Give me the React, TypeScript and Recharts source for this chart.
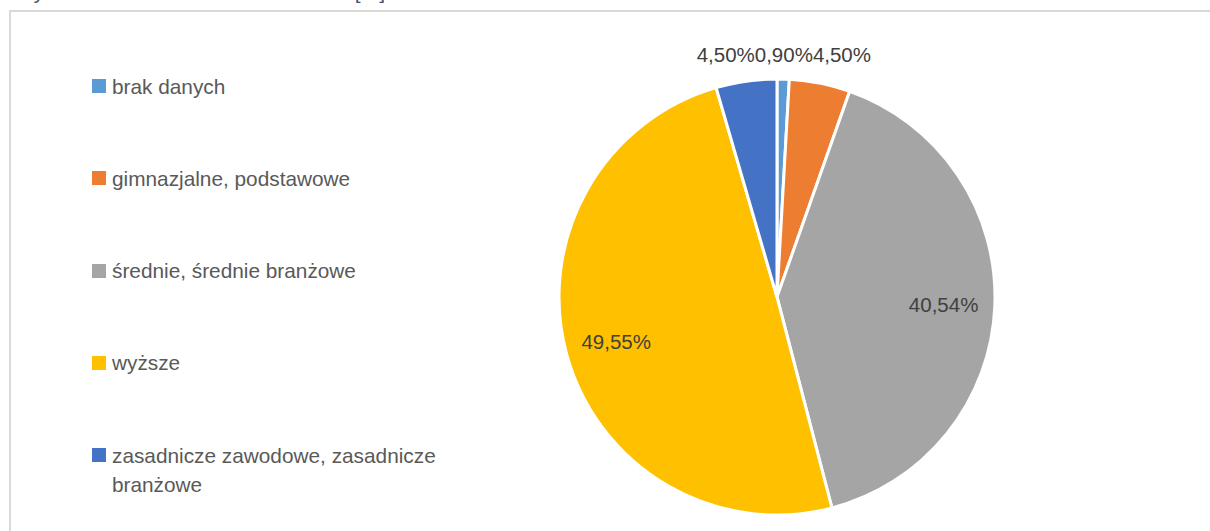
import React from 'react';
import { PieChart, Pie, Cell } from 'recharts';

const categories = [
  'brak danych',
  'gimnazjalne, podstawowe',
  'średnie, średnie branżowe',
  'wyższe',
  'zasadnicze zawodowe, zasadnicze branżowe',
];
const counts = [1, 5, 45, 55, 5];
const colors = ['#5B9BD5', '#ED7D31', '#A5A5A5', '#FFC000', '#4472C4'];
const titleText = 'Wykształcenie uczestników badania [%]';

const data = categories.map((name, i) => ({ name, value: counts[i] }));
const total = counts.reduce((a, b) => a + b, 0);

const FONT = '"Liberation Sans", Arial, sans-serif';
const LABEL_SIZE = 20.5;
const RAD = Math.PI / 180;

const fmt = (v: number) => ((v / total) * 100).toFixed(2).replace('.', ',') + '%';

const charW: Record<string, number> = { ',': 0.278, '%': 0.889 };
const textWidth = (s: string) =>
  s.split('').reduce((a, c) => a + (charW[c] ?? 0.556), 0) * LABEL_SIZE;

function outsidePositions(cx: number, cy: number, R: number) {
  let cum = 0;
  const items: { index: number; nat: number; w: number }[] = [];
  counts.forEach((v, i) => {
    const a0 = (cum / total) * 360;
    cum += v;
    const a1 = (cum / total) * 360;
    if (v / total < 0.1) {
      const mid = ((a0 + a1) / 2) * RAD;
      items.push({ index: i, nat: cx + (R + 26) * Math.sin(mid), w: textWidth(fmt(v)) });
    }
  });
  items.sort((a, b) => a.nat - b.nat);
  type G = { its: typeof items; left: number; width: number };
  const groups: G[] = [];
  for (const it of items) {
    groups.push({ its: [it], left: it.nat - it.w / 2, width: it.w });
    while (groups.length > 1) {
      const b = groups[groups.length - 1];
      const a = groups[groups.length - 2];
      if (a.left + a.width > b.left) {
        const its = [...a.its, ...b.its];
        const width = a.width + b.width;
        const center = its.reduce((s, q) => s + q.nat, 0) / its.length;
        groups.splice(groups.length - 2, 2, { its, left: center - width / 2, width });
      } else break;
    }
  }
  const out: Record<number, number> = {};
  groups.forEach((g) => {
    let x = g.left;
    g.its.forEach((q) => {
      out[q.index] = x + q.w / 2;
      x += q.w;
    });
  });
  return { xs: out, y: cy - R - 25 };
}

const renderLabel = (props: any) => {
  const { cx, cy, midAngle, outerRadius, index } = props;
  const v = counts[index];
  const text = fmt(v);
  let x: number;
  let y: number;
  if (v / total >= 0.1) {
    const r = outerRadius * 0.765;
    x = cx + r * Math.cos(-midAngle * RAD);
    y = cy + r * Math.sin(-midAngle * RAD);
  } else {
    const p = outsidePositions(cx, cy, outerRadius);
    x = p.xs[index];
    y = p.y;
  }
  return (
    <text
      x={x}
      y={y}
      textAnchor="middle"
      dominantBaseline="central"
      fill="#404040"
      fontSize={LABEL_SIZE}
      fontFamily={FONT}
    >
      {text}
    </text>
  );
};

function LegendBlock() {
  return (
    <div
      style={{
        position: 'absolute',
        left: 92,
        top: 71.5,
        width: 400,
        fontFamily: FONT,
        fontSize: 20.8,
        color: '#595959',
      }}
    >
      {categories.map((c, i) => (
        <div
          key={c}
          style={{ display: 'flex', alignItems: 'flex-start', height: 92.3, lineHeight: '29px' }}
        >
          <div
            style={{
              width: 14,
              height: 14,
              background: colors[i],
              marginTop: 7.5,
              marginRight: 6,
              flex: 'none',
            }}
          />
          <div style={{ maxWidth: 340 }}>{c}</div>
        </div>
      ))}
    </div>
  );
}

export default function App() {
  return (
    <div
      style={{
        position: 'absolute',
        left: 0,
        top: 0,
        width: 1210,
        height: 531,
        overflow: 'hidden',
        background: '#fff',
      }}
    >
      <div
        style={{
          position: 'absolute',
          left: 14,
          top: -20,
          fontFamily: FONT,
          fontSize: 21,
          lineHeight: '24px',
          color: '#44546A',
          whiteSpace: 'nowrap',
        }}
      >
        {titleText}
      </div>
      <div
        style={{
          position: 'absolute',
          left: 9,
          top: 10,
          width: 1300,
          height: 600,
          borderLeft: '2px solid #D9D9D9',
          borderTop: '2px solid #D9D9D9',
        }}
      />
      <LegendBlock />
      <PieChart
        width={1210}
        height={531}
        margin={{ top: 0, right: 0, bottom: 0, left: 0 }}
        style={{ position: 'absolute', left: 0, top: 0 }}
      >
        <Pie
          data={data}
          dataKey="value"
          nameKey="name"
          cx={777}
          cy={297}
          outerRadius={218}
          startAngle={90}
          endAngle={-270}
          stroke="#FFFFFF"
          strokeWidth={3}
          label={renderLabel}
          labelLine={false}
          isAnimationActive={false}
        >
          {data.map((d, i) => (
            <Cell key={d.name} fill={colors[i]} />
          ))}
        </Pie>
      </PieChart>
    </div>
  );
}
